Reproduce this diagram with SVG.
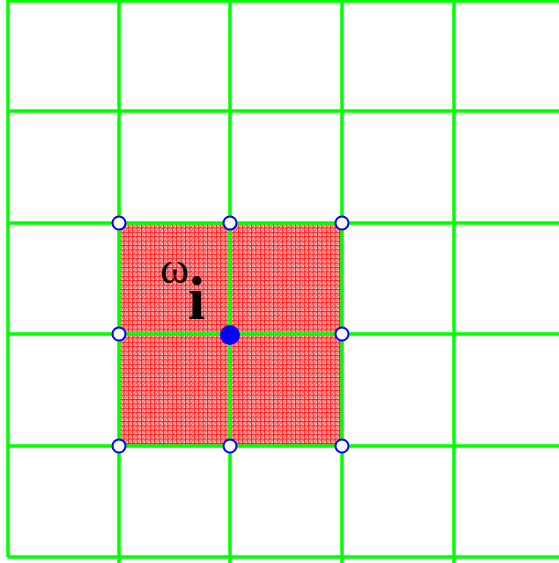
<svg xmlns="http://www.w3.org/2000/svg" width="559" height="563" viewBox="0 0 559 563">
<defs>
<pattern id="hatch" width="4.4" height="4.4" patternUnits="userSpaceOnUse" x="119" y="223">
<rect width="4.4" height="4.4" fill="#ff1a1a"/>
<rect x="1.2" y="1.2" width="3.2" height="3.2" fill="#ffe6e6"/>
<path d="M1.6 4L4 1.6" stroke="#ff3030" stroke-width="0.9" fill="none"/>
</pattern>
<style>
.g{stroke:#00ff00;stroke-width:3.5;fill:none}
.o{fill:#fff;stroke:#0000ff;stroke-width:2}
.f{fill:#0000ff}
</style>
</defs>
<rect width="559" height="563" fill="#fff"/>
<rect id="region" x="119" y="223" width="223" height="223" fill="url(#hatch)"/>
<g id="grid">
<path class="g" d="M8 0V557M119 0V563M230 0V563M342 0V563M454 0V563"/>
<path class="g" d="M8 1H559M8 111H559M8 223H559M8 334H559M8 446H559M8 557H559"/>
</g>
<g id="nodes">
<circle class="o" cx="119" cy="223" r="6.5"/>
<circle class="o" cx="230" cy="223" r="6.5"/>
<circle class="o" cx="342" cy="223" r="6.5"/>
<circle class="o" cx="119" cy="334" r="6.5"/>
<circle class="o" cx="342" cy="334" r="6.5"/>
<circle class="o" cx="119" cy="446" r="6.5"/>
<circle class="o" cx="230" cy="446" r="6.5"/>
<circle class="o" cx="342" cy="446" r="6.5"/>
<circle class="f" cx="230" cy="335" r="10"/>
</g>
<g id="label" font-family="'Liberation Serif', serif">
<text x="160" y="283" font-size="44">ω</text>
<text x="188" y="319" font-size="62" font-weight="bold">i</text>
</g>
</svg>
